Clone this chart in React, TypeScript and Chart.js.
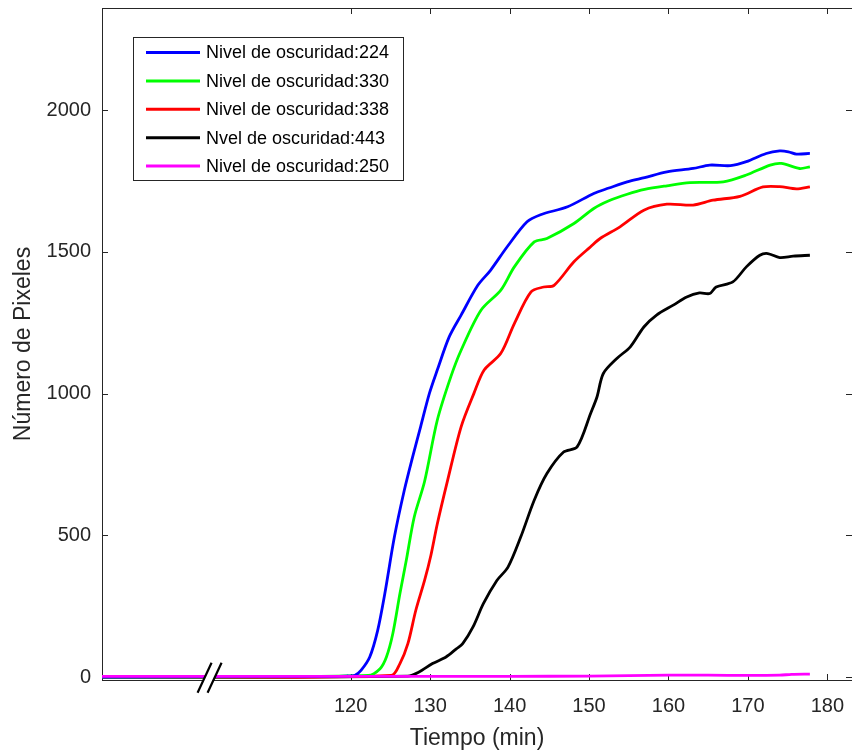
import React, { useEffect, useRef } from "react";
import { Chart, registerables } from "chart.js";

Chart.register(...registerables);

// ---- Data ----
const SERIES_LABELS = [
  "Nivel de oscuridad:224",
  "Nivel de oscuridad:330",
  "Nivel de oscuridad:338",
  "Nvel de oscuridad:443",
  "Nivel de oscuridad:250",
];
const SERIES_COLORS = ["#0000ff", "#00ff00", "#ff0000", "#000000", "#ff00ff"];

const X_MIN = 88.7;
const X_MAX = 183.1;
const Y_MIN = -10;
const Y_MAX = 2360;
const X_TICKS = [120, 130, 140, 150, 160, 170, 180];
const Y_TICKS = [0, 500, 1000, 1500, 2000];
const BREAK_AT = 102.1;

const blueT = [88.7, 116, 119.5, 120.5, 121.3, 122.4, 123.4, 124.3, 125.5, 126.75, 127.8, 128.8, 129.9, 130.9, 132.4, 133.9, 136, 137.6, 139.7, 142.2, 143.9, 147.3, 150.6, 152.5, 154.8, 157, 159.8, 163.1, 165.2, 167.8, 169.8, 172.3, 174, 175.1, 176.1, 177.8];
const blueV = [0, 2, 4, 6, 24, 71, 165, 295, 494, 659, 777, 883, 1000, 1083, 1200, 1277, 1382, 1435, 1518, 1606, 1631, 1659, 1706, 1725, 1747, 1762, 1782, 1794, 1806, 1804, 1818, 1847, 1856, 1853, 1845, 1847];

const greenT = [88.7, 122.2, 123.7, 124.5, 125.3, 126.2, 127, 128, 129.3, 130.9, 132.6, 133.9, 136.4, 138.9, 140.6, 143.1, 144.7, 148.1, 150.6, 152.5, 154.8, 157, 159.8, 162.7, 166.9, 169.8, 172.8, 174.2, 176.5, 177.8];
const greenV = [0, 6, 30, 71, 153, 295, 412, 565, 690, 906, 1059, 1153, 1294, 1365, 1447, 1535, 1547, 1600, 1653, 1680, 1703, 1720, 1733, 1744, 1747, 1771, 1806, 1812, 1794, 1800];

const redT = [88.7, 125.1, 126.2, 127.2, 128.2, 129.3, 130.1, 130.9, 132.2, 133.9, 135.5, 136.8, 138.9, 140.6, 142.7, 144.3, 145.6, 148.1, 150.2, 151.4, 153.9, 156.9, 159.8, 163.1, 165.6, 169, 171.9, 174, 176.1, 177.8];
const redV = [0, 6, 48, 118, 236, 341, 430, 540, 694, 883, 1000, 1083, 1142, 1247, 1359, 1376, 1382, 1465, 1518, 1547, 1588, 1647, 1668, 1665, 1682, 1696, 1729, 1730, 1722, 1729];

const blackT = [88.7, 127.2, 128.6, 130.3, 132, 133.3, 134.1, 135.4, 136.7, 138.4, 139.8, 141.4, 143.1, 144.7, 146.8, 148.5, 150.2, 151, 151.8, 153.5, 155.2, 156.9, 158.5, 160.6, 162.3, 163.9, 165.2, 166, 168.1, 169.8, 171.5, 172.5, 174, 175.7, 177.8];
const blackV = [0, 4, 18, 48, 71, 100, 118, 177, 259, 341, 388, 494, 624, 718, 794, 812, 930, 988, 1071, 1124, 1165, 1235, 1277, 1312, 1341, 1355, 1353, 1376, 1394, 1447, 1488, 1494, 1480, 1485, 1488];

const magentaT = [88.7, 120, 140, 150, 160, 165, 170, 174, 175.5, 177.8];
const magentaV = [3, 3, 3, 4, 7, 7, 6, 7, 10, 11];

const SERIES_T = [blueT, greenT, redT, blackT, magentaT];
const SERIES_V = [blueV, greenV, redV, blackV, magentaV];

const AXIS_COLOR = "#262626";
const FONT = "'Liberation Sans', Arial, sans-serif";

const zeroPadding = (s: any) => {
  s.paddingTop = 0;
  s.paddingBottom = 0;
  s.paddingLeft = 0;
  s.paddingRight = 0;
};

const axesPlugin = {
  id: "matlabAxes",
  beforeDatasetsDraw(chart: any) {
    const { ctx, chartArea } = chart;
    const xs = chart.scales.x;
    const ys = chart.scales.y;
    const { left, right, top, bottom } = chartArea;
    ctx.save();
    ctx.strokeStyle = AXIS_COLOR;
    ctx.lineWidth = 1;
    ctx.beginPath();
    ctx.moveTo(left + 0.5, top);
    ctx.lineTo(left + 0.5, bottom);
    ctx.moveTo(left, bottom + 0.5);
    ctx.lineTo(right, bottom + 0.5);
    ctx.moveTo(left, top + 0.5);
    ctx.lineTo(right, top + 0.5);
    for (const v of X_TICKS) {
      const px = Math.round(xs.getPixelForValue(v)) + 0.5;
      ctx.moveTo(px, bottom);
      ctx.lineTo(px, bottom - 6);
      ctx.moveTo(px, top);
      ctx.lineTo(px, top + 6);
    }
    for (const v of Y_TICKS) {
      const py = Math.round(ys.getPixelForValue(v)) + 0.5;
      ctx.moveTo(left, py);
      ctx.lineTo(left + 6, py);
      ctx.moveTo(right, py);
      ctx.lineTo(right - 6, py);
    }
    ctx.stroke();
    ctx.restore();
  },
  afterDatasetsDraw(chart: any) {
    const { ctx, chartArea } = chart;
    const xs = chart.scales.x;
    const bx = xs.getPixelForValue(BREAK_AT);
    const by = chartArea.bottom;
    // axis break mark "//"
    ctx.save();
    const dxTop = 8.1, dxBot = -5.9;
    ctx.fillStyle = "#ffffff";
    ctx.beginPath();
    ctx.moveTo(bx - 5 + dxBot, by + 12.7);
    ctx.lineTo(bx - 5 + dxTop, by - 17.3);
    ctx.lineTo(bx + 5 + dxTop, by - 17.3);
    ctx.lineTo(bx + 5 + dxBot, by + 12.7);
    ctx.closePath();
    ctx.fill();
    ctx.strokeStyle = "#000000";
    ctx.lineWidth = 2.2;
    ctx.beginPath();
    for (const off of [-5, 5]) {
      ctx.moveTo(bx + off + dxBot, by + 12.7);
      ctx.lineTo(bx + off + dxTop, by - 17.3);
    }
    ctx.stroke();
    ctx.restore();
  },
  afterDraw(chart: any) {
    const { ctx } = chart;
    // legend box
    const bx = 133.5, byy = 37.5, bw = 270, bh = 143;
    ctx.save();
    ctx.fillStyle = "#ffffff";
    ctx.fillRect(bx, byy, bw, bh);
    ctx.strokeStyle = AXIS_COLOR;
    ctx.lineWidth = 1;
    ctx.strokeRect(bx, byy, bw, bh);
    ctx.font = `18px ${FONT}`;
    ctx.textBaseline = "middle";
    ctx.textAlign = "left";
    SERIES_LABELS.forEach((label, i) => {
      const y = 52.5 + i * 28.4;
      ctx.strokeStyle = SERIES_COLORS[i];
      ctx.lineWidth = 3;
      ctx.beginPath();
      ctx.moveTo(146, y);
      ctx.lineTo(200, y);
      ctx.stroke();
      ctx.fillStyle = "#000000";
      ctx.fillText(label, 206, y + 1);
    });
    ctx.restore();
  },
};

export default function App() {
  const canvasRef = useRef<HTMLCanvasElement | null>(null);

  useEffect(() => {
    if (!canvasRef.current) return;
    const order = [4, 0, 1, 2, 3]; // magenta drawn on top
    const datasets = order.map((i) => ({
      label: SERIES_LABELS[i],
      data: SERIES_T[i].map((t, k) => ({ x: t, y: SERIES_V[i][k] })),
      borderColor: SERIES_COLORS[i],
      backgroundColor: SERIES_COLORS[i],
      borderWidth: 2.8,
      pointRadius: 0,
      tension: 0.3,
      fill: false,
    }));
    const chart = new Chart(canvasRef.current, {
      type: "line",
      data: { datasets },
      options: {
        responsive: false,
        animation: false,
        devicePixelRatio: 1,
        layout: { padding: { top: 8, left: 0, right: 0, bottom: 0 } },
        plugins: { legend: { display: false }, tooltip: { enabled: false } },
        scales: {
          x: {
            type: "linear",
            min: X_MIN,
            max: X_MAX,
            grid: { display: false },
            border: { display: false },
            afterBuildTicks: (s: any) => {
              s.ticks = X_TICKS.map((v) => ({ value: v }));
            },
            afterFit: (s: any) => {
              s.height = 70;
              zeroPadding(s);
            },
            ticks: {
              autoSkip: false,
              maxRotation: 0,
              padding: 6,
              color: AXIS_COLOR,
              font: { family: FONT, size: 20 },
              callback: (v: any) => String(v),
            },
            title: {
              display: true,
              text: "Tiempo (min)",
              color: AXIS_COLOR,
              font: { family: FONT, size: 23, lineHeight: 1 },
              padding: { top: 0, bottom: 0 },
            },
          },
          y: {
            type: "linear",
            min: Y_MIN,
            max: Y_MAX,
            grid: { display: false },
            border: { display: false },
            afterBuildTicks: (s: any) => {
              s.ticks = Y_TICKS.map((v) => ({ value: v }));
            },
            afterFit: (s: any) => {
              s.width = 102;
              zeroPadding(s);
            },
            ticks: {
              autoSkip: false,
              padding: 3,
              color: AXIS_COLOR,
              font: { family: FONT, size: 20 },
              callback: (v: any) => String(v),
            },
            title: {
              display: true,
              text: "Número de Pixeles",
              color: AXIS_COLOR,
              font: { family: FONT, size: 23, lineHeight: 1 },
              padding: { top: 12, bottom: 0 },
            },
          },
        },
      },
      plugins: [axesPlugin],
    });
    return () => chart.destroy();
  }, []);

  return (
    <div style={{ position: "absolute", left: 0, top: 0, width: 852, height: 750, background: "#ffffff" }}>
      <canvas ref={canvasRef} width={852} height={750} style={{ display: "block" }} />
    </div>
  );
}
